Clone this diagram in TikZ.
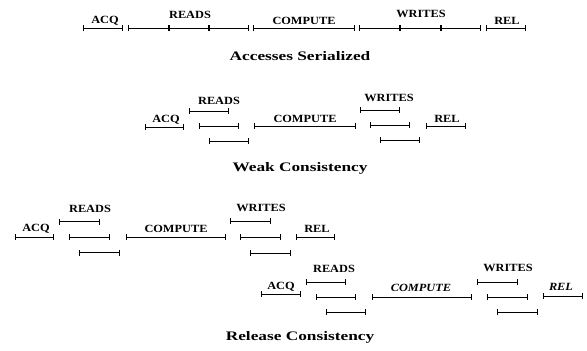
\documentclass[tikz,border=0pt]{standalone}
\usepackage{fontspec}
\setmainfont{Liberation Serif}
\usetikzlibrary{arrows.meta}

\begin{document}
\begin{tikzpicture}[x=1pt,y=-1pt,
    span/.style={line width=1pt,{Bar[width=6pt,line width=1pt]}-{Bar[width=6pt,line width=1pt]}},
    lbl/.style={font=\fontsize{11}{13}\selectfont\bfseries, xscale=1.12, inner sep=0pt},
    ttl/.style={font=\fontsize{13}{15}\selectfont\bfseries, xscale=1.33, inner sep=0pt}]
    \useasboundingbox (0,0) rectangle (587,351);

    % accesses serialized
    \draw[span] (83,28) -- (123,28);
    \draw[span] (128,28) -- (169,28);
    \draw[span] (169,28) -- (209,28);
    \draw[span] (209,28) -- (249,28);
    \draw[span] (253,28) -- (355,28);
    \draw[span] (359,28) -- (400,28);
    \draw[span] (400,28) -- (441,28);
    \draw[span] (441,28) -- (481,28);
    \draw[span] (486,28) -- (526,28);

    \node[lbl] (acqS) at (105,21) {ACQ};
    \node[lbl] (readsS) at (190,15) {READS};
    \node[lbl] (compS) at (304,21) {COMPUTE};
    \node[lbl] (writesS) at (421,14) {WRITES};
    \node[lbl] (relS) at (507,21) {REL};
    \node[ttl] (ttlS) at (300,56) {Accesses Serialized};

    % weak consistency
    \draw[span] (145,127) -- (184,127);
    \foreach \i in {-1,0,1}
        \draw[span] (199+10*\i,126+15*\i) -- (239+10*\i,126+15*\i);
    \draw[span] (254,126) -- (356,126);
    \foreach \i in {-1,0,1}
        \draw[span] (370+10*\i,125+15*\i) -- (410+10*\i,125+15*\i);
    \draw[span] (426,126) -- (466,126);

    \node[lbl] (acqW) at (166,120) {ACQ};
    \node[lbl] (readsW) at (219,101) {READS};
    \node[lbl] (compW) at (305,119) {COMPUTE};
    \node[lbl] (writesW) at (389,98) {WRITES};
    \node[lbl] (relW) at (447,119) {REL};
    \node[ttl] (ttlW) at (300,168) {Weak Consistency};

    % release consistency, first processor
    \draw[span] (15,237) -- (54,237);
    \foreach \i in {-1,0,1}
        \draw[span] (69+10*\i,237+15.5*\i) -- (110+10*\i,237+15.5*\i);
    \draw[span] (126,237) -- (226,237);
    \foreach \i in {-1,0,1}
        \draw[span] (240+10*\i,237+16*\i) -- (281+10*\i,237+16*\i);
    \draw[span] (296,237) -- (335,237);

    \node[lbl] (acqR) at (36,229) {ACQ};
    \node[lbl] (readsR) at (90,209) {READS};
    \node[lbl] (compR) at (176,229) {COMPUTE};
    \node[lbl] (writesR) at (261,208) {WRITES};
    \node[lbl] (relR) at (317,229) {REL};

    % release consistency, second processor
    \draw[span] (261,294) -- (301,294);
    \foreach \i in {-1,0,1}
        \draw[span] (316+10*\i,297+15*\i) -- (356+10*\i,297+15*\i);
    \draw[span] (372,297) -- (472,297);
    \foreach \i in {-1,0,1}
        \draw[span] (487+10*\i,297+15*\i) -- (528+10*\i,297+15*\i);
    \draw[span] (543,296) -- (583,296);

    \node[lbl] (acqR2) at (281,287) {ACQ};
    \node[lbl] (readsR2) at (334,269) {READS};
    \node[lbl,font=\fontsize{11}{13}\selectfont\bfseries\itshape] (compR2) at (421,288) {COMPUTE};
    \node[lbl] (writesR2) at (508,268) {WRITES};
    \node[lbl,font=\fontsize{11}{13}\selectfont\bfseries\itshape] (relR2) at (561,287) {REL};
    \node[ttl] (ttlR) at (300,337) {Release Consistency};

\end{tikzpicture}
\end{document}
